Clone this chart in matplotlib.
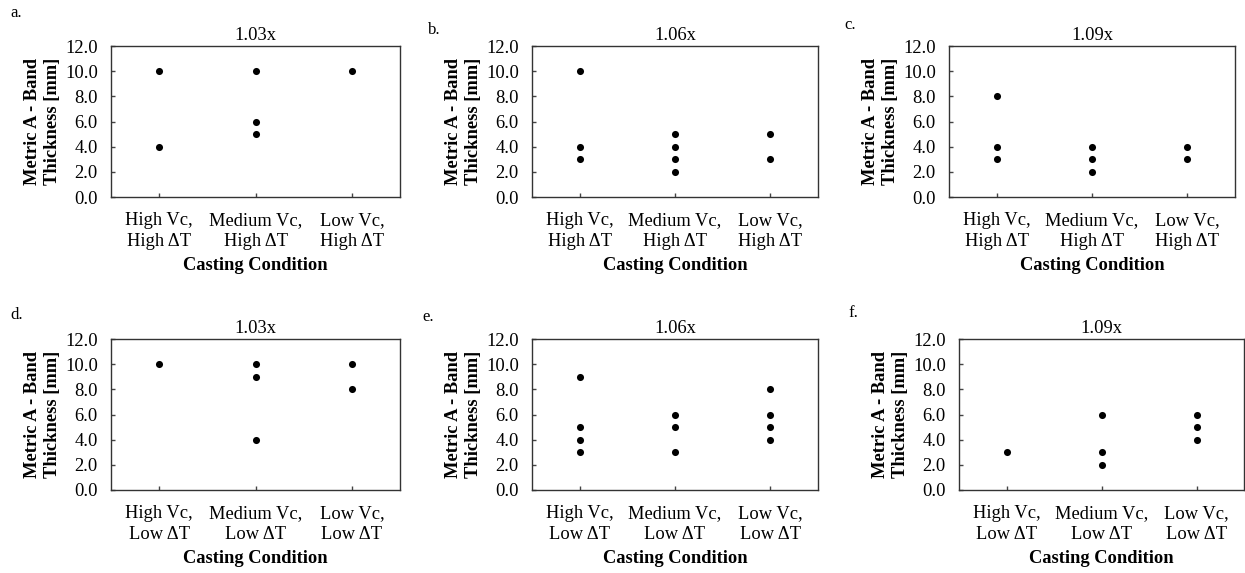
import matplotlib
matplotlib.use("Agg")
import matplotlib.pyplot as plt

plt.rcParams['font.family'] = ['Liberation Serif', 'DejaVu Serif']

# Casting conditions on the x axis
high_dt_labels = ["High Vc,\nHigh ΔT", "Medium Vc,\nHigh ΔT", "Low Vc,\nHigh ΔT"]
low_dt_labels = ["High Vc,\nLow ΔT", "Medium Vc,\nLow ΔT", "Low Vc,\nLow ΔT"]

# Band thickness measurements [mm], one list per casting condition
a_values = [[10, 4], [10, 6, 5], [10]]
b_values = [[10, 4, 3], [5, 4, 3, 2], [5, 3]]
c_values = [[8, 4, 3], [4, 3, 2], [4, 3]]
d_values = [[10], [10, 9, 4], [10, 8]]
e_values = [[9, 5, 4, 3], [6, 5, 3], [8, 6, 5, 4]]
f_values = [[3], [6, 3, 2], [6, 5, 4]]

titles = ["1.03x", "1.06x", "1.09x", "1.03x", "1.06x", "1.09x"]
letters = ["a.", "b.", "c.", "d.", "e.", "f."]
yticks = [0, 2, 4, 6, 8, 10, 12]

W, H = 1245, 573
FS = 13.3
fig = plt.figure(figsize=(W / 100, H / 100), dpi=100)

# axes boxes in pixels: left, right, top, bottom
boxes = [
    (111, 400, 46, 197),
    (532, 818, 46, 197),
    (949, 1235, 46, 197),
    (111, 400, 339, 490),
    (532, 818, 339, 490),
    (959, 1244, 339, 490),
]
letter_pos = [(10, 13), (428, 30), (844, 25), (10, 315), (422, 317), (848, 313)]

panels = [a_values, b_values, c_values, d_values, e_values, f_values]

for i, (vals, box) in enumerate(zip(panels, boxes)):
    l, r, t, b = box
    ax = fig.add_axes([l / W, 1 - b / H, (r - l) / W, (b - t) / H])
    for k, group in enumerate(vals):
        ax.scatter([k] * len(group), group, s=26, color="black", zorder=3,
                   linewidths=0, clip_on=False)
    ax.set_xlim(-0.5, 2.5)
    ax.set_ylim(0, 12)
    ax.set_yticks(yticks)
    ax.set_yticklabels([f"{v:.1f}" for v in yticks])
    ax.set_xticks([0, 1, 2])
    ax.set_xticklabels(high_dt_labels if i < 3 else low_dt_labels,
                       linespacing=1.3)
    ax.tick_params(axis="y", length=3, width=1.0, direction="in",
                   labelsize=FS, pad=9.5, color="#444444")
    ax.tick_params(axis="x", length=3, width=1.0, direction="in",
                   labelsize=FS, pad=11, color="#444444")
    for s in ax.spines.values():
        s.set_linewidth(1.0)
        s.set_color("#333333")
    ax.set_title(titles[i], fontsize=FS, pad=4)
    ax.set_xlabel("Casting Condition", fontsize=FS, fontweight="bold",
                  labelpad=5)
    ax.set_ylabel("Metric A - Band\nThickness [mm]", fontsize=FS,
                  fontweight="bold", labelpad=3, linespacing=1.25)
    lx, ly = letter_pos[i]
    fig.text(lx / W, 1 - ly / H, letters[i], fontsize=12, va="center",
             ha="left")

fig.savefig("out.png", dpi=100)
